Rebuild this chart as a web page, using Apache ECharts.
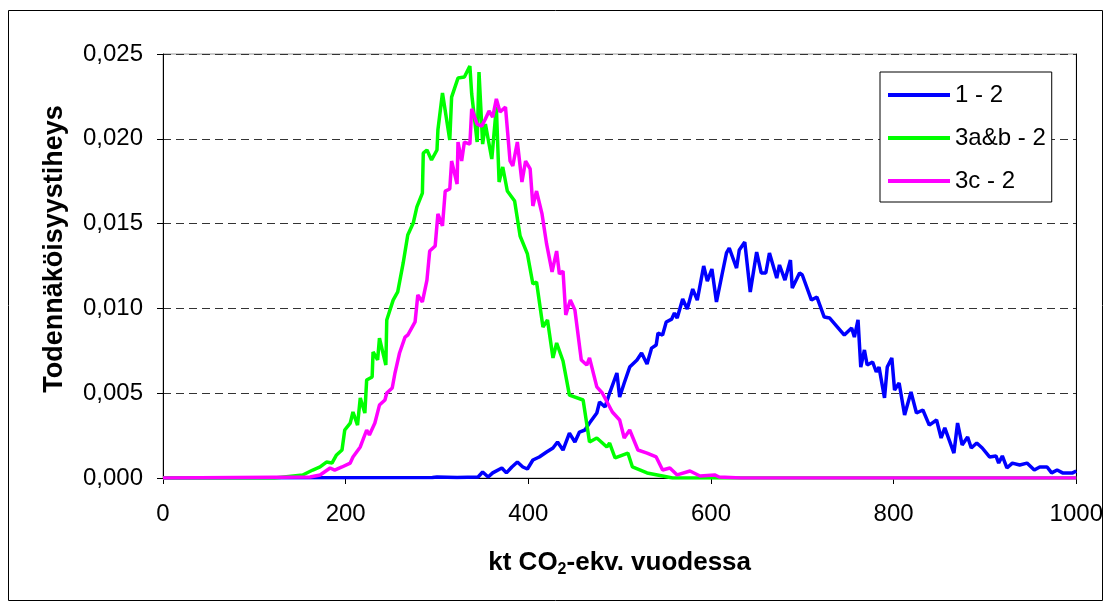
<!DOCTYPE html>
<html>
<head>
<meta charset="utf-8">
<script src="https://cdn.jsdelivr.net/npm/echarts@6/dist/echarts.min.js"></script>
<style>
  html, body { margin: 0; padding: 0; background: #fff; }
  #chart { width: 1106px; height: 604px; }
</style>
</head>
<body>
<div id="chart"></div>
<script>
// [kt CO2-ekv., probability density]
const series_names = ['1 - 2', '3a&b - 2', '3c - 2'];
const x_ticks = [0, 200, 400, 600, 800, 1000];
const y_ticks = [0, 0.005, 0.010, 0.015, 0.020, 0.025];

const data_1_2 = [[0,0],[295,0.00003],[300,0.00006],[322,0.00003],[345,0.00006],[350,0.00035],[356,0.00006],[361,0.0003],[371,0.00059],[376,0.0003],[382,0.00065],[388,0.00094],[394,0.00065],[399,0.00053],[405,0.00106],[412,0.00124],[420,0.00153],[427,0.00177],[432,0.00212],[438,0.00165],[445,0.00265],[451,0.00212],[456,0.00271],[462,0.00283],[467,0.00324],[475,0.00383],[478,0.00448],[484,0.00419],[489,0.00501],[497,0.00619],[500,0.00478],[505,0.0056],[511,0.00654],[519,0.00696],[524,0.00737],[530,0.00672],[535,0.00766],[540,0.00784],[542,0.00855],[547,0.00843],[551,0.0092],[557,0.00937],[560,0.00973],[563,0.00943],[569,0.01055],[574,0.00996],[580,0.01114],[585,0.01049],[592,0.0125],[596,0.01161],[601,0.01232],[606,0.01038],[612,0.01197],[617,0.01327],[620,0.01356],[628,0.01238],[631,0.01344],[637,0.01391],[643,0.01097],[650,0.01332],[655,0.01209],[660,0.01209],[664,0.01327],[672,0.01179],[675,0.01256],[681,0.01167],[687,0.01285],[689,0.0112],[697,0.01209],[700,0.01197],[710,0.01049],[716,0.01067],[724,0.00949],[730,0.00943],[746,0.00843],[754,0.00884],[757,0.00831],[761,0.00932],[764,0.00654],[768,0.00755],[771,0.00666],[777,0.00684],[781,0.00625],[784,0.00654],[790,0.00472],[793,0.00654],[798,0.00708],[801,0.00519],[806,0.0056],[812,0.00371],[819,0.00507],[825,0.00383],[832,0.00401],[839,0.00312],[847,0.00342],[852,0.00236],[856,0.00295],[866,0.00147],[870,0.00324],[875,0.00195],[881,0.00242],[885,0.00177],[891,0.00206],[897,0.00177],[905,0.00124],[912,0.0013],[915,0.00088],[919,0.0013],[924,0.00059],[930,0.00088],[938,0.00077],[946,0.00088],[954,0.00047],[960,0.00065],[968,0.00065],[973,0.0003],[979,0.00047],[985,0.0003],[990,0.0003],[996,0.0003],[1000,0.00041]];

const data_3ab_2 = [[0,0],[122,0],[153,0.00018],[164,0.00047],[172,0.00065],[179,0.00094],[185,0.00088],[190,0.00136],[196,0.00165],[199,0.00283],[205,0.00324],[208,0.00389],[213,0.00312],[216,0.00472],[221,0.00383],[223,0.00578],[229,0.00596],[230,0.00743],[235,0.00696],[237,0.00825],[244,0.00666],[245,0.00932],[252,0.01049],[257,0.01097],[263,0.01268],[268,0.01433],[274,0.01503],[278,0.01598],[284,0.0168],[285,0.01916],[289,0.01934],[294,0.01875],[300,0.01934],[301,0.02052],[306,0.0227],[314,0.01993],[316,0.02246],[323,0.02358],[330,0.02364],[336,0.02429],[338,0.02264],[344,0.01981],[346,0.02394],[350,0.01969],[353,0.02087],[360,0.01881],[365,0.02187],[368,0.01745],[372,0.01834],[377,0.01692],[385,0.01633],[391,0.01427],[399,0.01321],[405,0.01144],[409,0.01156],[416,0.0089],[421,0.00932],[427,0.00708],[431,0.00796],[438,0.0069],[445,0.00489],[460,0.0046],[467,0.00212],[475,0.00236],[486,0.00183],[489,0.00206],[495,0.00118],[509,0.00147],[514,0.00065],[530,0.0003],[547,0.00012],[558,0],[1000,0]];

const data_3c_2 = [[0,0],[161,0.00006],[172,0.00018],[183,0.00059],[188,0.00047],[196,0.00065],[205,0.00088],[208,0.00124],[216,0.00183],[223,0.00283],[226,0.00254],[232,0.00324],[237,0.0043],[243,0.0046],[245,0.00501],[251,0.00531],[254,0.00619],[259,0.00737],[265,0.00831],[268,0.00843],[276,0.0092],[279,0.01079],[284,0.01038],[289,0.01167],[292,0.01338],[298,0.01368],[301,0.01557],[306,0.01486],[309,0.01692],[314,0.01704],[316,0.01869],[322,0.01733],[323,0.01981],[327,0.01869],[330,0.01981],[336,0.01969],[338,0.02176],[344,0.02087],[349,0.02075],[353,0.02117],[357,0.02164],[361,0.02128],[365,0.02235],[369,0.02158],[375,0.02187],[380,0.01869],[383,0.0184],[388,0.01981],[393,0.01745],[397,0.01869],[402,0.01822],[405,0.01604],[409,0.01692],[415,0.01557],[420,0.0138],[426,0.01215],[431,0.01338],[434,0.01203],[438,0.0122],[441,0.00961],[446,0.01049],[451,0.00991],[458,0.00696],[464,0.00666],[467,0.00708],[475,0.00537],[481,0.00501],[492,0.00389],[500,0.00342],[505,0.00236],[511,0.00283],[520,0.00165],[530,0.00147],[540,0.00124],[547,0.00047],[555,0.00059],[563,0.00018],[577,0.00041],[588,0.00012],[604,0.00018],[609,0.00006],[633,0],[1000,0]];

const colors = ['#0000ff', '#00ff00', '#ff00ff'];
const FONT = 'Liberation Sans, Arial, sans-serif';

const chart = echarts.init(document.getElementById('chart'), null, { renderer: 'canvas' });

function make_line(name, data, color) {
    return {
        name: name,
        type: 'line',
        data: data,
        showSymbol: false,
        smooth: false,
        animation: false,
        lineStyle: { color: color, width: 3.5 },
        itemStyle: { color: color }
    };
}

const option = {
    backgroundColor: '#fff',
    animation: false,
    grid: {
        left: 163, right: 29, top: 54, bottom: 126,
        show: true, borderColor: '#999', borderWidth: 1
    },
    legend: {
        orient: 'vertical',
        left: 880, top: 72,
        padding: [11, 6, 9, 8],
        itemWidth: 62, itemHeight: 4, itemGap: 19,
        itemTextGap: 6,
        icon: 'rect',
        backgroundColor: '#fff',
        borderColor: '#000', borderWidth: 1, borderRadius: 0,
        textStyle: { fontFamily: FONT, fontSize: 24, color: '#000' },
        data: series_names
    },
    xAxis: {
        type: 'value',
        min: x_ticks[0], max: x_ticks[x_ticks.length - 1], interval: 200,
        name: '{a|kt CO}{s|2}{a|-ekv. vuodessa}',
        nameLocation: 'middle',
        nameGap: 69,
        nameTextStyle: {
            rich: {
                a: { fontFamily: FONT, fontSize: 26, fontWeight: 'bold', color: '#000' },
                s: { fontFamily: FONT, fontSize: 16, fontWeight: 'bold', color: '#000', padding: [15, 0, 0, 0] }
            }
        },
        axisLine: { onZero: false, lineStyle: { color: '#000', width: 1 } },
        axisTick: { show: true, length: 6, lineStyle: { color: '#000' } },
        axisLabel: { fontFamily: FONT, fontSize: 24, color: '#000', margin: 24, formatter: v => String(v) },
        splitLine: { show: false }
    },
    yAxis: [{
        type: 'value',
        min: y_ticks[0], max: y_ticks[y_ticks.length - 1], interval: 0.005,
        axisLine: { show: true, lineStyle: { color: '#000', width: 1 } },
        axisTick: { show: true, length: 6, lineStyle: { color: '#000' } },
        axisLabel: {
            fontFamily: FONT, fontSize: 24, color: '#000', margin: 20,
            formatter: v => v.toFixed(3).replace('.', ',')
        },
        splitLine: { show: true, lineStyle: { color: '#333', type: [8, 5], width: 1 } }
    }, {
        type: 'value', position: 'right',
        min: 0, max: 0.025, interval: 0.005,
        axisLine: { show: true, lineStyle: { color: '#000', width: 1 } },
        axisTick: { show: false }, axisLabel: { show: false }, splitLine: { show: false }
    }],
    graphic: [{
        type: 'rect', silent: true, z: -1,
        shape: { x: 8.5, y: 10.5, width: 1094, height: 590 },
        style: { fill: 'none', stroke: '#000', lineWidth: 1 }
    }, {
        type: 'text', silent: true,
        x: 55, y: 249, rotation: Math.PI / 2,
        style: {
            text: 'Todennäköisyystiheys',
            font: 'bold 27px Liberation Sans, Arial, sans-serif',
            fill: '#000', align: 'center', verticalAlign: 'middle'
        }
    }],
    series: [
        make_line(series_names[0], data_1_2, colors[0]),
        make_line(series_names[1], data_3ab_2, colors[1]),
        make_line(series_names[2], data_3c_2, colors[2])
    ]
};

chart.setOption(option);
</script>
</body>
</html>
